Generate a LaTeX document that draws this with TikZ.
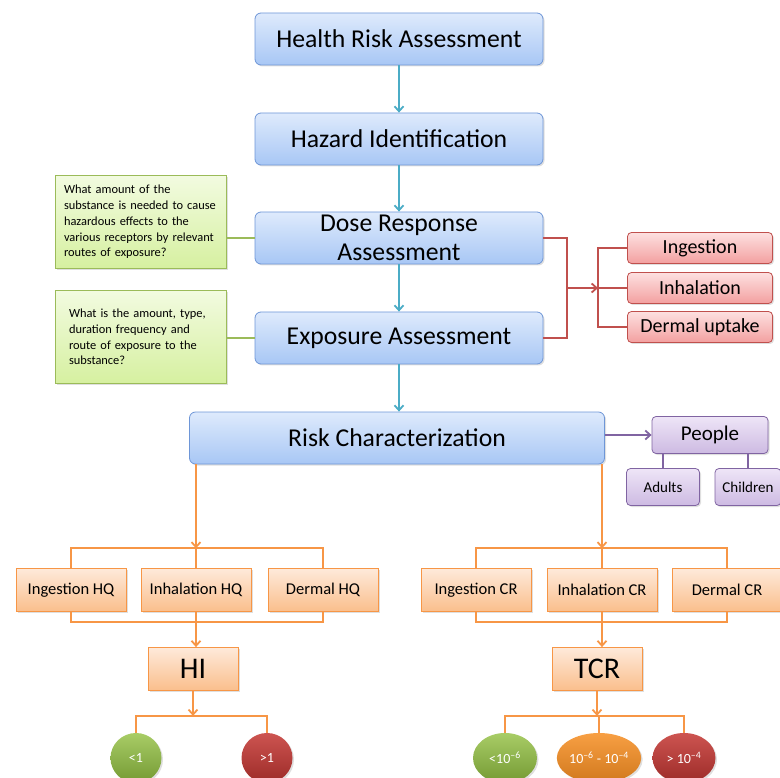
\documentclass[tikz,border=0pt]{standalone}
\usepackage{fontspec}
\setmainfont{Carlito}
\usetikzlibrary{shapes.geometric, arrows.meta, positioning, shadows}

\definecolor{bluetop}{RGB}{222,234,252}
\definecolor{bluebot}{RGB}{168,199,245}
\definecolor{blueedge}{RGB}{110,150,215}
\definecolor{teal}{RGB}{75,172,198}
\definecolor{notetop}{RGB}{242,251,224}
\definecolor{notebot}{RGB}{214,240,160}
\definecolor{noteedge}{RGB}{155,187,89}
\definecolor{redtop}{RGB}{253,224,224}
\definecolor{redbot}{RGB}{243,160,160}
\definecolor{rededge}{RGB}{192,80,77}
\definecolor{purtop}{RGB}{238,229,247}
\definecolor{purbot}{RGB}{205,186,226}
\definecolor{puredge}{RGB}{128,100,162}
\definecolor{ortop}{RGB}{254,234,218}
\definecolor{orbot}{RGB}{250,190,140}
\definecolor{oredge}{RGB}{247,150,70}
\definecolor{okgreen}{RGB}{146,192,64}
\definecolor{badred}{RGB}{196,54,50}
\definecolor{midorange}{RGB}{246,142,34}

\begin{document}
\begin{tikzpicture}[
		x=1pt, y=-1pt,
		softshadow/.style={drop shadow={opacity=0.25, shadow xshift=1.5pt, shadow yshift=-1.5pt}},
		stage/.style={
			rectangle,
			rounded corners=6pt,
			draw=blueedge,
			top color=bluetop,
			bottom color=bluebot,
			thick,
			minimum width=288pt,
			minimum height=52pt,
			align=center,
			font=\fontsize{25.7}{29.5}\selectfont,
			softshadow
		},
		note/.style={
			rectangle,
			draw=noteedge,
			top color=notetop,
			bottom color=notebot,
			thick,
			text width=154pt,
			minimum width=171pt,
			minimum height=93pt,
			align=left,
			font=\fontsize{12.4}{15.7}\selectfont,
			softshadow
		},
		route/.style={
			rectangle,
			rounded corners=4pt,
			draw=rededge,
			top color=redtop,
			bottom color=redbot,
			thick,
			minimum width=145pt,
			minimum height=31pt,
			font=\fontsize{20}{24}\selectfont,
			softshadow
		},
		group/.style={
			rectangle,
			rounded corners=4pt,
			draw=puredge,
			top color=purtop,
			bottom color=purbot,
			thick,
			minimum height=37pt,
			softshadow
		},
		calc/.style={
			rectangle,
			draw=oredge,
			top color=ortop,
			bottom color=orbot,
			thick,
			minimum width=110pt,
			minimum height=43pt,
			font=\fontsize{16.5}{20}\selectfont,
			softshadow
		},
		total/.style={
			calc,
			minimum width=90pt,
			font=\fontsize{30}{34}\selectfont
		},
		level/.style={
			ellipse,
			text=white,
			minimum height=50pt,
			inner sep=0pt,
			font=\fontsize{14}{16}\selectfont,
			softshadow
		},
		tarrow/.style={-{Straight Barb[length=5pt,width=9pt]}, line width=1.8pt, draw=teal},
		rline/.style={line width=1.8pt, draw=rededge},
		pline/.style={line width=1.8pt, draw=puredge},
		gline/.style={line width=2pt, draw=noteedge},
		oline/.style={line width=1.8pt, draw=oredge}
		]
		\useasboundingbox (0,0) rectangle (780,778);
		
		% Main chain
		\node (hra) [stage] at (399,39) {Health Risk Assessment};
		\node (haz) [stage] at (399,139) {Hazard Identification};
		\node (dose) [stage, inner ysep=0pt] at (399,238) {Dose Response\\Assessment};
		\node (expo) [stage] at (399,338) {Exposure Assessment};
		\node (risk) [stage, minimum width=415pt] at (397,438) {Risk Characterization};
		
		% Questions on the left
		\node (q1) [note] at (141,222) {What amount of the\\substance is needed to cause\\hazardous effects to the\\various receptors by relevant\\routes of exposure?};
		\node (q2) [note] at (141,337) {\hspace*{5pt}\parbox[t]{150pt}{What is the amount, type,\\duration frequency and\\route of exposure to the\\substance?}};
		
		% Routes
		\node (ing) [route] at (700,248) {Ingestion};
		\node (inh) [route] at (700,288) {Inhalation};
		\node (derm) [route] at (700,327) {Dermal uptake};
		\coordinate (rjoin) at (567,288);
		\coordinate (rfork) at (598,288);
		
		% Receptors
		\node (ppl) [group, minimum width=116pt, font=\fontsize{21}{24}\selectfont] at (710,435) {People};
		\node (adu) [group, minimum width=73pt, font=\fontsize{15}{18}\selectfont] at (663,487) {Adults};
		\node (chi) [group, minimum width=66pt, font=\fontsize{15}{18}\selectfont] at (748,487) {Children};
		
		% Non-cancer branch
		\node (hqing) [calc] at (71,590) {Ingestion HQ};
		\node (hqinh) [calc] at (196,590) {Inhalation HQ};
		\node (hqder) [calc] at (323,590) {Dermal HQ};
		\node (hi) [total] at (193,669) {HI};
		\node (lt1) [level, top color=okgreen!80!white, bottom color=okgreen!80!black, minimum width=51pt] at (136,758) {<1};
		\node (gt1) [level, top color=badred!85!white, bottom color=badred!80!black, minimum width=51pt] at (267,758) {>1};
		
		% Cancer branch
		\node (cring) [calc] at (476,590) {Ingestion CR};
		\node (crinh) [calc] at (602,590) {Inhalation CR};
		\node (crder) [calc] at (727,590) {Dermal CR};
		\node (tcr) [total] at (597,669) {TCR};
		\node (lo) [level, top color=okgreen!80!white, bottom color=okgreen!80!black, minimum width=64pt] at (505,758) {<10\textsuperscript{–6}};
		\node (mid) [level, top color=midorange!85!white, bottom color=midorange!85!black, minimum width=65pt] at (599,758) {10\textsuperscript{–6} - 10\textsuperscript{–4}};
		\node (hi4) [level, top color=badred!85!white, bottom color=badred!80!black, minimum width=63pt] at (684,758) {> 10\textsuperscript{–4}};
		
		% Connection arrows
		\draw [tarrow] (hra) -- (haz);
		\draw [tarrow] (haz) -- (dose);
		\draw [tarrow] (dose) -- (expo);
		\draw [tarrow] (expo.south) -- (expo.south |- risk.north);
		
		\draw [gline] (q1.east |- dose.west) -- (dose.west);
		\draw [gline] (q2.east |- expo.west) -- (expo.west);
		
		\draw [rline] (dose.east) -| (rjoin) |- (expo.east);
		\draw [rline, -{Straight Barb[length=5pt,width=9pt]}] (rjoin) -- (rfork);
		\draw [rline] (ing.west) -| (rfork) |- (derm.west);
		\draw [rline] (rfork) -- (inh.west);
		
		\draw [pline, -{Straight Barb[length=5pt,width=9pt]}] (risk.east |- ppl.west) -- (ppl.west);
		\draw [pline] (ppl.south -| adu.north) -- (adu.north);
		\draw [pline] (ppl.south -| chi.north) -- (chi.north);
		
		\draw [oline, -{Straight Barb[length=5pt,width=9pt]}] (risk.south -| hqinh.north) -- ++(0,84);
		\draw [oline] (hqing.north) -- ++(0,-20) -| (hqder.north);
		\draw [oline] (hqinh.north) -- ++(0,-20);
		\draw [oline] (hqing.south) -- ++(0,10) -| (hqder.south);
		\draw [oline, -{Straight Barb[length=5pt,width=9pt]}] (hqinh.south) -- (hqinh.south |- hi.north);
		\draw [oline, -{Straight Barb[length=5pt,width=9pt]}] (hi.south) -- ++(0,25);
		\draw [oline] (lt1.north) -- ++(0,-17) -| (gt1.north);
		
		\draw [oline, -{Straight Barb[length=5pt,width=9pt]}] (risk.south -| crinh.north) -- ++(0,84);
		\draw [oline] (cring.north) -- ++(0,-20) -| (crder.north);
		\draw [oline] (crinh.north) -- ++(0,-20);
		\draw [oline] (cring.south) -- ++(0,10) -| (crder.south);
		\draw [oline, -{Straight Barb[length=5pt,width=9pt]}] (crinh.south) -- (crinh.south |- tcr.north);
		\draw [oline, -{Straight Barb[length=5pt,width=9pt]}] (tcr.south) -- ++(0,25);
		\draw [oline] (lo.north) -- ++(0,-17) -| (hi4.north);
		\draw [oline] (mid.north) -- ++(0,-17);
		
	\end{tikzpicture}
\end{document}
